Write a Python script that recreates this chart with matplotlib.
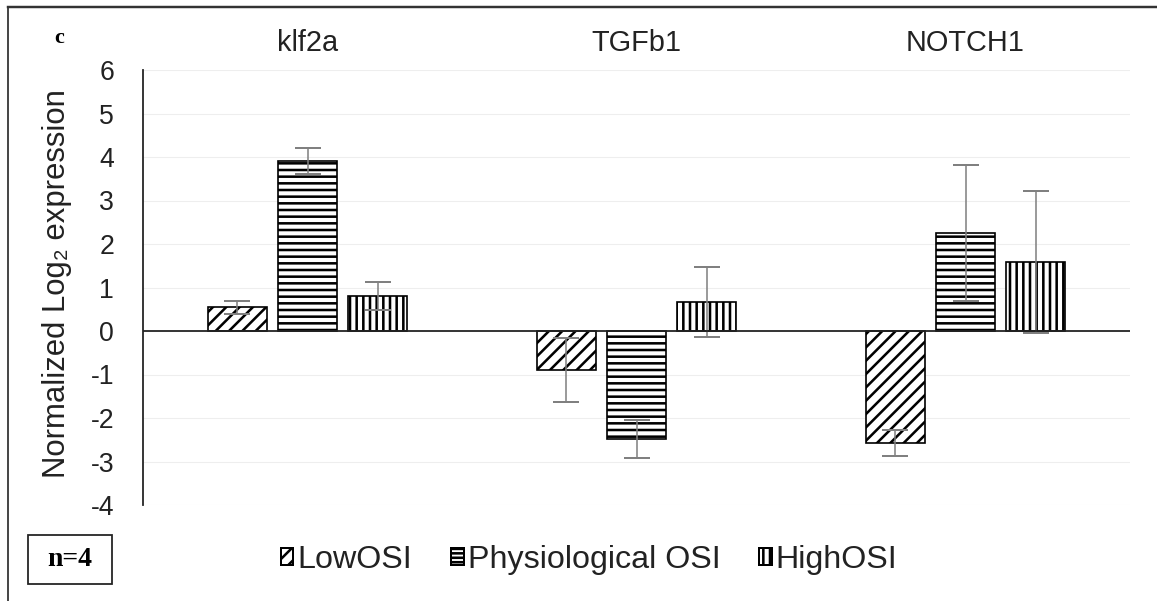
import numpy as np
import matplotlib
matplotlib.use("Agg")
import matplotlib.pyplot as plt
from matplotlib.patches import Patch, Rectangle
from matplotlib.lines import Line2D
from matplotlib.transforms import blended_transform_factory

# data
genes = ["klf2a", "TGFb1", "NOTCH1"]
series = ["LowOSI", "Physiological OSI", "HighOSI"]
low_osi = [0.55, -0.90, -2.57]
low_err = [0.15, 0.73, 0.30]
phys_osi = [3.90, -2.48, 2.25]
phys_err = [0.30, 0.44, 1.57]
high_osi = [0.80, 0.67, 1.59]
high_err = [0.32, 0.80, 1.63]
yticks = [-4, -3, -2, -1, 0, 1, 2, 3, 4, 5, 6]

plt.rcParams['font.family'] = ['Liberation Sans', 'DejaVu Sans']
plt.rcParams['axes.unicode_minus'] = False
plt.rcParams['hatch.linewidth'] = 2.3
plt.rcParams['hatch.color'] = 'black'

W, H, DPI = 1157, 601, 80
fig = plt.figure(figsize=(W / DPI, H / DPI), dpi=DPI)
ax = fig.add_axes([143 / W, 1 - 505 / H, (1130 - 143) / W, (505 - 70) / H])

x = np.arange(len(genes))
width = 0.177
step = 0.213
hatches = ['//', '--', '||']
all_vals = [low_osi, phys_osi, high_osi]
all_errs = [low_err, phys_err, high_err]

for i, (vals, errs, h) in enumerate(zip(all_vals, all_errs, hatches)):
    pos = x + (i - 1) * step
    ax.bar(pos, vals, width, color='white', edgecolor='black', linewidth=1.5,
           hatch=h, zorder=2)
    ax.errorbar(pos, vals, yerr=errs, fmt='none', ecolor='#808080',
                elinewidth=1.4, capsize=12, capthick=1.8, zorder=3)

ax.set_xlim(-0.5, 2.5)
ax.set_ylim(-4, 6)
ax.set_yticks(yticks)
ax.set_xticks([])
ax.tick_params(axis='y', length=0, pad=26, labelsize=24, labelcolor='#222222')
for s in ['top', 'right', 'bottom']:
    ax.spines[s].set_visible(False)
ax.spines['left'].set_linewidth(1.6)
ax.spines['left'].set_color('#222222')
ax.yaxis.grid(True, color='#eeeeee', linewidth=1)
ax.set_axisbelow(True)
ax.axhline(0, color='#222222', linewidth=1.6, zorder=4)

ax.set_ylabel("Normalized Log\u2082 expression", fontsize=28, color='#222222')
ax.yaxis.set_label_coords(-0.072, 0.508)

# gene names along the top
tr = blended_transform_factory(ax.transData, fig.transFigure)
for xi, g in zip(x, genes):
    ax.text(xi, 1 - 43 / H, g, transform=tr, ha='center', va='center',
            fontsize=26, color='#222222')

# legend
handles = [Patch(facecolor='white', edgecolor='black', hatch=h, linewidth=1.8)
           for h in ['//', '---', '||']]
fig.legend(handles, series, loc='center', bbox_to_anchor=(589 / W, 1 - 560 / H),
           ncol=3, frameon=False, fontsize=29, handlelength=0.4,
           handleheight=0.4, handletextpad=0.12, columnspacing=1.2,
           labelcolor='#222222')

# panel letter and n box
fig.text(59 / W, 1 - 38 / H, "c", fontsize=20, fontweight='bold',
         family='Liberation Serif', ha='center', va='center')
fig.patches.append(Rectangle((28 / W, 1 - 584 / H), 84 / W, 49 / H,
                             transform=fig.transFigure, fill=False,
                             edgecolor='#222222', linewidth=1.6))
fig.text(69.5 / W, 1 - 559.5 / H, "n=4", fontsize=25, fontweight='bold',
         family='Liberation Serif', ha='center', va='center')

# outer frame (top and left edges)
fig.lines.append(Line2D([8 / W, 1], [1 - 7 / H, 1 - 7 / H], transform=fig.transFigure,
                        color='#333333', linewidth=2.2))
fig.lines.append(Line2D([8 / W, 8 / W], [0, 1 - 7 / H], transform=fig.transFigure,
                        color='#333333', linewidth=1.6))

fig.savefig("out.png", dpi=DPI)
